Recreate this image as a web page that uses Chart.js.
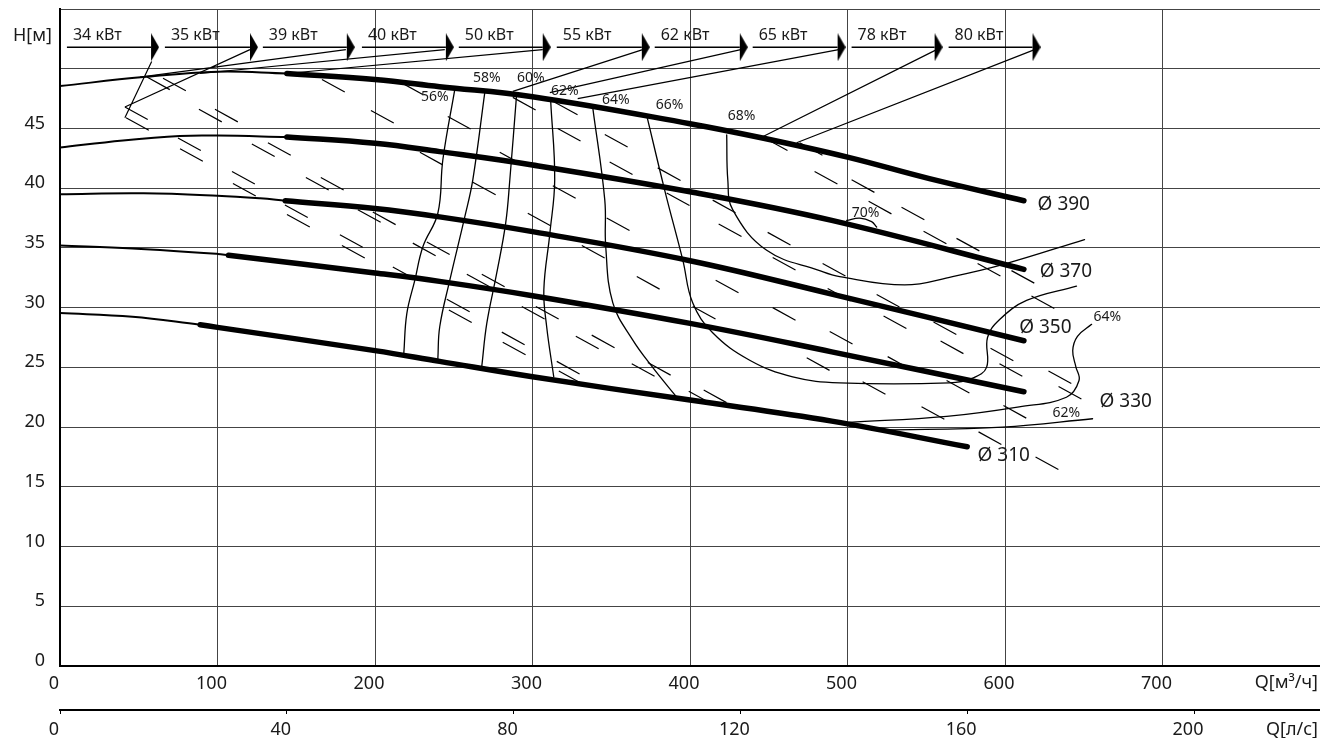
<!DOCTYPE html>
<html>
<head>
<meta charset="utf-8">
<script src="https://cdn.jsdelivr.net/npm/chart.js@4.4.1/dist/chart.umd.min.js"></script>
<style>
  html, body { margin: 0; padding: 0; background: #fff; }
</style>
</head>
<body>
<canvas id="pumpChart" width="1320" height="738"></canvas>
<script>
// Q-H curves per impeller diameter: thin part (low flow) + thick part (working range)
const q390thin = [0, 53, 100, 144];
const h390thin = [48.55, 49.3, 49.75, 49.6];
const q390 = [144, 200, 241, 300, 400, 446, 500, 552, 612];
const h390 = [49.6, 49.1, 48.5, 47.66, 45.4, 44.2, 42.6, 40.8, 38.95];

const q370thin = [0, 40, 76, 100, 144];
const h370thin = [43.4, 44.0, 44.37, 44.4, 44.29];
const q370 = [144, 200, 241, 300, 400, 490, 612];
const h370 = [44.29, 43.76, 43.06, 41.94, 39.7, 37.3, 33.2];

const q350thin = [0, 53, 100, 127, 143];
const h350thin = [39.5, 39.57, 39.37, 39.15, 38.95];
const q350 = [143, 200, 241, 300, 400, 488, 612];
const h350 = [38.95, 38.3, 37.6, 36.36, 33.93, 31.2, 27.23];

const q330thin = [0, 46, 100, 107];
const h330thin = [35.2, 34.96, 34.5, 34.38];
const q330 = [107, 200, 241, 300, 400, 490, 612];
const h330 = [34.38, 32.9, 32.2, 31.0, 28.68, 26.3, 22.96];

const q310thin = [0, 46, 89];
const h310thin = [29.55, 29.24, 28.57];
const q310 = [89, 100, 200, 241, 300, 400, 490, 576];
const h310 = [28.57, 28.35, 26.4, 25.5, 24.21, 22.26, 20.5, 18.35];

const impLabels = ["Ø 390", "Ø 370", "Ø 350", "Ø 330", "Ø 310"];
const impLabelQ = [620.7, 622, 609, 660, 582.6];
const impLabelH = [38.6, 33.0, 28.3, 22.1, 17.6];

// efficiency lines
const eff56Q = [250.7, 243.1, 239.9, 230.4, 225.3, 220.2, 218.3];
const eff56H = [48.3, 42.4, 37.9, 35.1, 32.3, 29.5, 26.2];
const eff58Q = [269.7, 262.1, 257.0, 247.5, 241.1, 239.9];
const eff58H = [48.0, 40.7, 37.6, 32.3, 28.4, 25.7];
const eff60Q = [290.0, 285.6, 283.0, 277.3, 271.0, 267.8];
const eff60H = [48.0, 40.7, 37.1, 32.9, 28.7, 25.1];
const eff62Q = [311.6, 314.1, 311.0, 307.2, 309.0, 313.5];
const eff62H = [47.2, 40.7, 36.2, 31.5, 28.4, 24.2];
const eff64Q = [338.3, 345.9, 346.5, 351.0, 363.6, 376.3, 391.6];
const eff64H = [46.7, 39.0, 35.1, 30.4, 27.3, 25.0, 22.5];
const eff66Q = [372.5, 384.0, 395.4, 401.7, 414.4, 437.9, 465.2, 495.0, 564.8, 579.4, 588.3, 588.9, 596.6, 613.7, 645.4];
const eff66H = [46.1, 39.8, 34.0, 30.4, 27.9, 25.6, 24.2, 23.7, 23.7, 24.1, 25.0, 27.5, 29.0, 30.6, 31.8];
const eff68Q = [423.3, 424.0, 427.1, 448.7, 482.3, 495.0, 536.3, 566.7, 598.4, 650.5];
const eff68H = [44.45, 40.7, 38.2, 34.8, 33.1, 32.6, 31.9, 32.6, 33.6, 35.7];
const eff70Q = [499.5, 507.7, 515.3, 518.5];
const eff70H = [37.3, 37.5, 37.2, 36.75];
const eff64bQ = [501, 563, 609, 639, 647, 645, 643, 646, 655];
const eff64bH = [20.4, 20.9, 21.7, 22.5, 23.9, 25.05, 26.4, 27.6, 28.6];
const eff62bQ = [521, 598.5, 655.6];
const eff62bH = [19.75, 20.0, 20.7];

const effLabels = ["56%", "58%", "60%", "62%", "64%", "66%", "68%", "70%", "64%", "62%"];
const effLabelQ = [238, 271, 299, 320.5, 352.9, 387, 432.8, 511.5, 665, 639];
const effLabelH = [47.6, 49.2, 49.2, 48.1, 47.4, 47.0, 46.0, 37.9, 29.2, 21.2];

// power arrows along the top
const kwLabels = ["34 кВт", "35 кВт", "39 кВт", "40 кВт", "50 кВт", "55 кВт", "62 кВт", "65 кВт", "78 кВт", "80 кВт"];
const kwStartQ = [4.4, 66.6, 128.8, 191.7, 253.2, 315.4, 377.6, 439.8, 502.6, 564.2];
const kwEndQ = [57.8, 120.6, 182.1, 245.0, 306.5, 369.4, 431.6, 493.7, 555.3, 617.5];
const kwH = 51.8;
const kwLabelH = 52.75;

// leader lines from each arrow down to the curve
const leadFromQ = [58.2, 120.6, 181.5, 244.3, 306.5, 370.0, 432.2, 494.4, 556.6, 618.8];
const leadFromH = [50.6, 51.6, 51.6, 51.6, 51.6, 51.6, 51.6, 51.6, 51.6, 51.6];
const leadToQ = [41.2, 41.2, 50.8, 88.8, 144.0, 287.5, 311.0, 328.7, 446.1, 467.7];
const leadToH = [45.9, 46.8, 49.3, 49.6, 49.6, 48.1, 48.0, 47.5, 44.3, 43.8];

// short hatch strokes (start points)
const dashQ = [55.2, 65.4, 88.2, 98.4, 166.3, 197.4, 74.9, 76.2, 121.8, 132, 109.2, 109.8, 156.1, 165.6, 142.8, 144.1, 189.1, 198.6, 177.7, 179,
  224, 232.9, 211.3, 262.1, 312.9, 385.2, 414.4, 347.1, 297, 418.2, 449.3, 452.5, 331.3, 366.2, 416.3, 258.3, 267.8, 245.6, 246.9, 293.2,
  302.1, 401.7, 452.5, 280.5, 281.1, 327.5, 337.6, 474.1, 315.4, 316.7, 363, 373.2, 399.2, 408.7, 502.6, 513.4, 534.3, 548.3, 569.2, 484.2,
  582.6, 604.1, 487.4, 518.5, 522.9, 554.6, 616.8, 488.7, 559.1, 590.8, 525.5, 596.5, 627.6, 509.6, 562.9, 634, 547, 599, 583.2, 619.4,
  246.2, 279.2, 228.5, 287.5, 314.1, 316, 345.9, 349, 379.5, 447.4, 469.6, 479.1, 215.8, 41.2, 41.9];
const dashH = [49.3, 49.2, 46.6, 46.6, 49.1, 46.5, 44.2, 43.3, 43.7, 43.8, 41.4, 40.4, 40.9, 40.9, 38.6, 37.8, 38.2, 38.0, 36.1, 35.2,
  35.4, 35.5, 33.4, 40.5, 40.2, 39.6, 39.0, 37.5, 37.9, 37.0, 36.3, 34.2, 35.2, 32.6, 32.3, 32.8, 32.8, 30.7, 29.8, 30.1,
  30.1, 30.1, 30.0, 27.95, 27.1, 27.6, 27.7, 25.8, 25.5, 24.7, 25.3, 25.4, 23.0, 23.1, 40.7, 38.9, 38.4, 36.4, 35.8, 33.7,
  33.7, 33.1, 31.6, 31.1, 29.3, 28.8, 30.97, 28.0, 27.2, 26.6, 25.9, 25.3, 24.7, 23.8, 23.9, 23.4, 21.7, 21.8, 19.6, 17.5,
  46.0, 43.0, 43.0, 47.6, 47.2, 45.0, 44.5, 42.2, 41.7, 44.2, 43.8, 41.4, 48.9, 46.8, 45.9];
const dashDQ = 14.5;
const dashDH = -1.05;

const Q_MAX = 800;
const H_MAX = 55;

const FONT = "'Noto Sans', 'DejaVu Sans', sans-serif";
const INK = "#1a1a1a";

function pts(qs, hs) {
  return qs.map((q, i) => ({ x: q, y: hs[i] }));
}

function curve(qs, hs, width) {
  return {
    data: pts(qs, hs),
    showLine: true,
    borderColor: "#000",
    borderWidth: width,
    borderCapStyle: "round",
    pointRadius: 0,
    tension: 0.4,
  };
}

// arrowhead image used as point style at the end of each arrow
const arrowHead = document.createElement("canvas");
arrowHead.width = 16;
arrowHead.height = 28;
(function () {
  const c = arrowHead.getContext("2d");
  c.fillStyle = "#000";
  c.beginPath();
  c.moveTo(8, 0);
  c.lineTo(16, 14);
  c.lineTo(8, 28);
  c.closePath();
  c.fill();
})();

const arrowData = [];
kwStartQ.forEach((q, i) => {
  arrowData.push({ x: q, y: kwH }, { x: kwEndQ[i], y: kwH }, { x: kwEndQ[i], y: null });
});

const leadData = [];
leadFromQ.forEach((q, i) => {
  leadData.push({ x: q, y: leadFromH[i] }, { x: leadToQ[i], y: leadToH[i] }, { x: leadToQ[i], y: null });
});

const dashData = [];
dashQ.forEach((q, i) => {
  dashData.push({ x: q, y: dashH[i] }, { x: q + dashDQ, y: dashH[i] + dashDH }, { x: q + dashDQ, y: null });
});

const thin = 2;
const thick = 5.5;
const effW = 1.3;

const datasets = [
  curve(q390thin, h390thin, thin), curve(q390, h390, thick),
  curve(q370thin, h370thin, thin), curve(q370, h370, thick),
  curve(q350thin, h350thin, thin), curve(q350, h350, thick),
  curve(q330thin, h330thin, thin), curve(q330, h330, thick),
  curve(q310thin, h310thin, thin), curve(q310, h310, thick),
  curve(eff56Q, eff56H, effW), curve(eff58Q, eff58H, effW), curve(eff60Q, eff60H, effW),
  curve(eff62Q, eff62H, effW), curve(eff64Q, eff64H, effW), curve(eff66Q, eff66H, effW),
  curve(eff68Q, eff68H, effW), curve(eff70Q, eff70H, effW), curve(eff64bQ, eff64bH, effW),
  curve(eff62bQ, eff62bH, effW),
  {
    data: leadData, showLine: true, spanGaps: false, borderColor: "#000", borderWidth: 1.2,
    pointRadius: 0, tension: 0,
  },
  {
    data: dashData, showLine: true, spanGaps: false, borderColor: "#000", borderWidth: 1.2,
    pointRadius: 0, tension: 0,
  },
  {
    data: arrowData, showLine: true, spanGaps: false, borderColor: "#000", borderWidth: 1.3,
    tension: 0,
    pointStyle: (ctx) => (ctx.dataIndex % 3 === 1 ? arrowHead : false),
    pointRadius: (ctx) => (ctx.dataIndex % 3 === 1 ? 8 : 0),
  },
];

// text annotations placed through the scales
const labelPlugin = {
  id: "curveLabels",
  afterDatasetsDraw(chart) {
    const { ctx, scales: { x, y }, chartArea } = chart;
    ctx.save();
    ctx.fillStyle = INK;
    ctx.textBaseline = "middle";

    ctx.font = "16px " + FONT;
    ctx.textAlign = "left";
    kwLabels.forEach((t, i) => {
      ctx.fillText(t, x.getPixelForValue(kwStartQ[i]) + 6, y.getPixelForValue(kwLabelH));
    });

    ctx.font = "14px " + FONT;
    ctx.textAlign = "center";
    effLabels.forEach((t, i) => {
      ctx.fillText(t, x.getPixelForValue(effLabelQ[i]), y.getPixelForValue(effLabelH[i]));
    });

    ctx.font = "19px " + FONT;
    ctx.textAlign = "left";
    impLabels.forEach((t, i) => {
      ctx.fillText(t, x.getPixelForValue(impLabelQ[i]), y.getPixelForValue(impLabelH[i]));
    });

    ctx.font = "18px " + FONT;
    ctx.textAlign = "right";
    ctx.fillText("H[м]", chartArea.left - 8, y.getPixelForValue(kwLabelH));
    ctx.fillText("Q[м³/ч]", chart.width - 2, chartArea.bottom + 17);
    ctx.fillText("Q[л/с]", chart.width - 2, chart.height - 8);
    ctx.restore();
  },
};

// keep the plot area fixed: no extra room for overhanging tick labels
function noPad(s) {
  s.paddingTop = 0;
  s.paddingBottom = 0;
  s.paddingLeft = 0;
  s.paddingRight = 0;
}

const tickFont = { family: FONT, size: 18 };

new Chart(document.getElementById("pumpChart"), {
  type: "scatter",
  data: { datasets },
  options: {
    responsive: false,
    animation: false,
    layout: { padding: { top: 9, left: 0, right: 0, bottom: 0 } },
    plugins: { legend: { display: false }, tooltip: { enabled: false } },
    scales: {
      x: {
        type: "linear", position: "bottom", min: 0, max: Q_MAX, weight: 0,
        afterFit: (s) => { s.height = 44; noPad(s); },
        grid: { color: "#444", lineWidth: 1, drawTicks: false },
        border: { color: "#000", width: 2 },
        ticks: {
          stepSize: 100, padding: 7, labelOffset: -6, color: INK,
          font: tickFont, maxRotation: 0,
          callback: (v) => (v < Q_MAX ? v : ""),
        },
      },
      x2: {
        type: "linear", position: "bottom", min: 0, max: Q_MAX / 3.6, weight: 1,
        afterFit: (s) => { s.height = 28; noPad(s); },
        grid: { drawOnChartArea: false, drawTicks: true, tickLength: 4, color: "#000" },
        border: { color: "#000", width: 2 },
        ticks: {
          stepSize: 40, includeBounds: false, padding: 5, labelOffset: -6, color: INK,
          font: tickFont, maxRotation: 0,
        },
      },
      y: {
        type: "linear", min: 0, max: H_MAX,
        afterFit: (s) => { s.width = 60; noPad(s); },
        grid: { color: "#444", lineWidth: 1, drawTicks: false },
        border: { color: "#000", width: 2 },
        ticks: {
          stepSize: 5, padding: 15, labelOffset: -5, color: INK,
          font: tickFont,
          callback: (v) => (v <= 45 ? v : ""),
        },
      },
    },
  },
  plugins: [labelPlugin],
});
</script>
</body>
</html>
